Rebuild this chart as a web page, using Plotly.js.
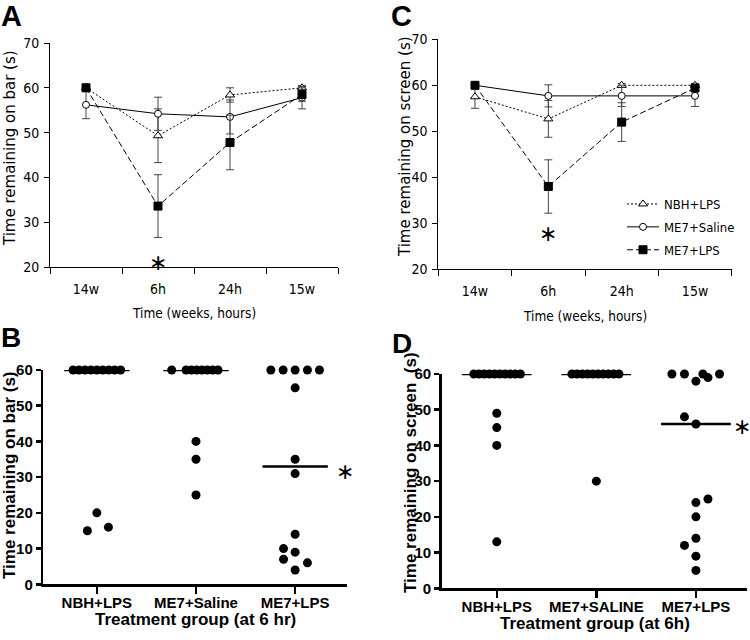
<!DOCTYPE html>
<html><head><meta charset="utf-8">
<script src="https://cdn.plot.ly/plotly-3.0.1.min.js"></script>
<style>html,body{margin:0;padding:0;background:#fff}#chart{width:750px;height:640px}</style>
</head><body><div id="chart"></div>
<script>
// ---------- data ----------
const timepoints = ['14w', '6h', '24h', '15w'];
const seriesNames = ['NBH+LPS', 'ME7+Saline', 'ME7+LPS'];

// Panel A: time remaining on bar (mean ± SEM)
const barNBH = [60, 49.3, 58.4, 60];
const barNBHErr = [0.8, 6.0, 1.6, 0.5];
const barSaline = [56.2, 54.2, 53.5, 57.8];
const barSalineErr = [3.1, 3.7, 3.8, 2.5];
const barLPS = [60, 33.6, 47.8, 58.5];
const barLPSErr = [0.5, 7.0, 6.1, 1.5];

// Panel C: time remaining on screen (mean ± SEM)
const scrNBH = [57.5, 52.7, 60, 60];
const scrNBHErr = [2.5, 4.0, 0.4, 0.4];
const scrSaline = [60, 57.7, 57.7, 57.7];
const scrSalineErr = [0.4, 2.4, 2.3, 2.3];
const scrLPS = [60, 38.0, 52.0, 59.4];
const scrLPSErr = [0.4, 5.8, 4.2, 0.6];

// Panel B: individual animals, bar, at 6 hr
const groupsB = ['NBH+LPS', 'ME7+Saline', 'ME7+LPS'];
const bNBH = [60, 60, 60, 60, 60, 60, 60, 60, 60, 20, 15, 16];
const bNBHJitter = [-0.24, -0.18, -0.12, -0.06, 0, 0.06, 0.12, 0.18, 0.24, 0, -0.095, 0.117];
const bSaline = [60, 60, 60, 60, 60, 60, 60, 60, 40, 35, 25];
const bSalineJitter = [-0.245, -0.10, -0.047, 0.007, 0.06, 0.114, 0.168, 0.222, 0, 0, 0];
const bLPS = [60, 60, 60, 60, 60, 55, 35, 31, 14, 10, 9, 7, 6, 4];
const bLPSJitter = [-0.245, -0.121, 0, 0.124, 0.245, 0, 0, 0, 0, -0.117, 0, -0.117, 0.124, 0];
const bCentre = [60, 60, 33];

// Panel D: individual animals, screen, at 6h
const groupsD = ['NBH+LPS', 'ME7+SALINE', 'ME7+LPS'];
const dNBH = [60, 60, 60, 60, 60, 60, 60, 60, 60, 60, 49, 45, 40, 13];
const dNBHJitter = [-0.23, -0.178, -0.126, -0.074, -0.022, 0.03, 0.082, 0.134, 0.186, 0.238, 0, 0, 0, 0];
const dSaline = [60, 60, 60, 60, 60, 60, 60, 60, 60, 60, 30];
const dSalineJitter = [-0.245, -0.193, -0.14, -0.088, -0.035, 0.017, 0.07, 0.122, 0.175, 0.227, 0];
const dLPS = [60, 60, 60, 60, 59, 58, 48, 46, 25, 24, 20, 14, 12, 9, 5];
const dLPSJitter = [-0.241, -0.115, 0.07, 0.237, 0.121, 0, -0.115, 0, 0.121, 0, 0, 0, -0.115, 0, 0];
const dCentre = [60, 60, 46];

// ---------- styling ----------
const W = 750, H = 640;
const COND = 'DejaVu Sans Condensed, Liberation Sans Narrow, DejaVu Sans, sans-serif';
const REG = 'DejaVu Sans, sans-serif';
const ARIAL = 'Liberation Sans, Arial, sans-serif';
const px = v => v / W;
const py = v => 1 - v / H;

const styles = [
  {symbol: 'triangle-up', size: 8, fill: '#fff', dash: '2px,2px'},
  {symbol: 'circle', size: 7, fill: '#fff', dash: 'solid'},
  {symbol: 'square', size: 8, fill: '#000', dash: '6px,3px'}
];

function timeTrace(i, y, err, xa, ya, show) {
  const s = styles[i];
  return {
    type: 'scatter', mode: 'lines+markers', x: timepoints, y: y,
    name: seriesNames[i], legendgroup: 'g' + i, xaxis: xa, yaxis: ya, showlegend: show, cliponaxis: false,
    line: {color: '#000', width: 1, dash: s.dash},
    marker: {symbol: s.symbol, size: s.size, color: s.fill, line: {color: '#000', width: 1}},
    error_y: {type: 'data', array: err, visible: true, color: '#444', thickness: 1, width: 4}
  };
}

function dotTrace(g, vals, jit, xa, ya) {
  return {
    type: 'scatter', mode: 'markers', xaxis: xa, yaxis: ya, showlegend: false, cliponaxis: false,
    x: vals.map((v, k) => g + jit[k]), y: vals,
    marker: {symbol: 'circle', size: 9, color: '#000'}
  };
}
function centreTrace(g, v, half, xa, ya) {
  return {
    type: 'scatter', mode: 'lines', xaxis: xa, yaxis: ya, showlegend: false, cliponaxis: false,
    x: [g - half, g + half], y: [v, v], line: {color: '#000', width: 2.5}
  };
}

const traces = [
  timeTrace(0, barNBH, barNBHErr, 'x', 'y', false),
  timeTrace(1, barSaline, barSalineErr, 'x', 'y', false),
  timeTrace(2, barLPS, barLPSErr, 'x', 'y', false),
  timeTrace(0, scrNBH, scrNBHErr, 'x2', 'y2', true),
  timeTrace(1, scrSaline, scrSalineErr, 'x2', 'y2', true),
  timeTrace(2, scrLPS, scrLPSErr, 'x2', 'y2', true)
];
bCentre.forEach((v, g) => traces.push(centreTrace(g, v, 0.33, 'x3', 'y3')));
dCentre.forEach((v, g) => traces.push(centreTrace(g, v, 0.35, 'x4', 'y4')));
traces.push(dotTrace(0, bNBH, bNBHJitter, 'x3', 'y3'));
traces.push(dotTrace(1, bSaline, bSalineJitter, 'x3', 'y3'));
traces.push(dotTrace(2, bLPS, bLPSJitter, 'x3', 'y3'));
traces.push(dotTrace(0, dNBH, dNBHJitter, 'x4', 'y4'));
traces.push(dotTrace(1, dSaline, dSalineJitter, 'x4', 'y4'));
traces.push(dotTrace(2, dLPS, dLPSJitter, 'x4', 'y4'));

function timeX(dom, anchor) {
  return {
    domain: dom, anchor: anchor, type: 'category', categoryorder: 'array', categoryarray: timepoints,
    range: [-0.5, 3.5], tickson: 'boundaries', ticks: 'outside', ticklen: 6, tickwidth: 1, tickcolor: '#000',
    ticklabelstandoff: 9,
    showline: true, linecolor: '#000', linewidth: 1, showgrid: false, zeroline: false,
    tickfont: {family: COND, size: 14, color: '#000'}, fixedrange: true
  };
}
function timeY(dom, anchor) {
  return {
    domain: dom, anchor: anchor, range: [20, 70], dtick: 10, tick0: 0, ticks: 'outside', ticklen: 5,
    tickwidth: 1, tickcolor: '#000', showline: true, linecolor: '#000', linewidth: 1, ticklabelstandoff: 2,
    showgrid: false, zeroline: false, tickfont: {family: COND, size: 14, color: '#000'}, fixedrange: true
  };
}
function groupX(dom, anchor, range, labels) {
  return {
    domain: dom, anchor: anchor, range: range, tickvals: [0, 1, 2], ticktext: labels,
    ticks: 'outside', ticklen: 7, tickwidth: 2.5, tickcolor: '#000', showline: true, linecolor: '#000',
    linewidth: 2.5, showgrid: false, zeroline: false, ticklabelstandoff: -4,
    tickfont: {family: ARIAL, size: 15, color: '#000', weight: 'bold'}, fixedrange: true
  };
}
function groupY(dom, anchor) {
  return {
    domain: dom, anchor: anchor, range: [0, 60], dtick: 10, ticks: 'outside', ticklen: 5,
    tickwidth: 2.5, tickcolor: '#000', showline: true, linecolor: '#000', linewidth: 2.5,
    showgrid: false, zeroline: false, tickfont: {family: ARIAL, size: 15, color: '#000', weight: 'bold'},
    fixedrange: true
  };
}

function paperText(text, x, y, font, angle) {
  return {xref: 'paper', yref: 'paper', x: px(x), y: py(y), xanchor: 'center', yanchor: 'middle',
    text: text, showarrow: false, font: font, textangle: angle || 0};
}
function letter(text, x, y, size) {
  return {xref: 'paper', yref: 'paper', x: px(x), y: py(y), xanchor: 'left', yanchor: 'middle',
    borderpad: 0, text: '<b>' + text + '</b>', showarrow: false, font: {family: ARIAL, size: size, color: '#000'}};
}
function star(xa, ya, x, y) {
  return {xref: xa, yref: ya, x: x, y: y, text: '∗', showarrow: false,
    font: {family: REG, size: 22, color: '#000'}};
}

const annotations = [
  letter('A', 0, 16, 29), letter('C', 390, 16, 29), letter('B', 0, 337, 28), letter('D', 391, 343, 28),
  paperText('Time remaining on bar (s)', 10, 148, {family: REG, size: 15, color: '#000'}, -90),
  paperText('Time (weeks, hours)', 194, 313, {family: COND, size: 13.5, color: '#000'}),
  paperText('Time remaining on screen (s)', 405, 147, {family: REG, size: 15, color: '#000'}, -90),
  paperText('Time (weeks, hours)', 585, 316, {family: COND, size: 13.5, color: '#000'}),
  paperText('<b>Time remaining on bar (s)</b>', 9, 475, {family: ARIAL, size: 17, color: '#000'}, -90),
  paperText('<b>Treatment group (at 6 hr)</b>', 196, 619, {family: ARIAL, size: 17, color: '#000'}),
  paperText('<b>Time remaining on screen  (s)</b>', 410, 473, {family: ARIAL, size: 17, color: '#000'}, -90),
  paperText('<b>Treatment group (at 6h)</b>', 595, 623, {family: ARIAL, size: 17, color: '#000'}),
  star('x', 'y', 1, 21.1), star('x2', 'y2', 1, 27.7), star('x3', 'y3', 2.5, 31.7), star('x4', 'y4', 2.465, 45.2)
];

const layout = {
  width: W, height: H, margin: {l: 0, r: 0, t: 0, b: 0}, paper_bgcolor: '#fff', plot_bgcolor: 'rgba(0,0,0,0)',
  showlegend: true,
  legend: {x: px(622), y: py(189), xanchor: 'left', yanchor: 'top', bgcolor: 'rgba(0,0,0,0)',
    font: {family: COND, size: 13, color: '#000'}, itemwidth: 32, traceorder: 'grouped', tracegroupgap: 3},
  xaxis: timeX([px(50), px(338)], 'y'),
  yaxis: timeY([py(267), py(43)], 'x'),
  xaxis2: timeX([px(438.3), px(731.7)], 'y2'),
  yaxis2: timeY([py(269.3), py(39.3)], 'x2'),
  xaxis3: groupX([px(43.3), px(346.7)], 'y3', [-0.54, 2.52], groupsB),
  yaxis3: groupY([py(584.3), py(370)], 'x3'),
  xaxis4: groupX([px(441.7), px(746.7)], 'y4', [-0.553, 2.51], groupsD),
  yaxis4: groupY([py(588.3), py(374)], 'x4'),
  annotations: annotations
};

Plotly.newPlot('chart', traces, layout, {displayModeBar: false, staticPlot: true});
</script></body></html>
